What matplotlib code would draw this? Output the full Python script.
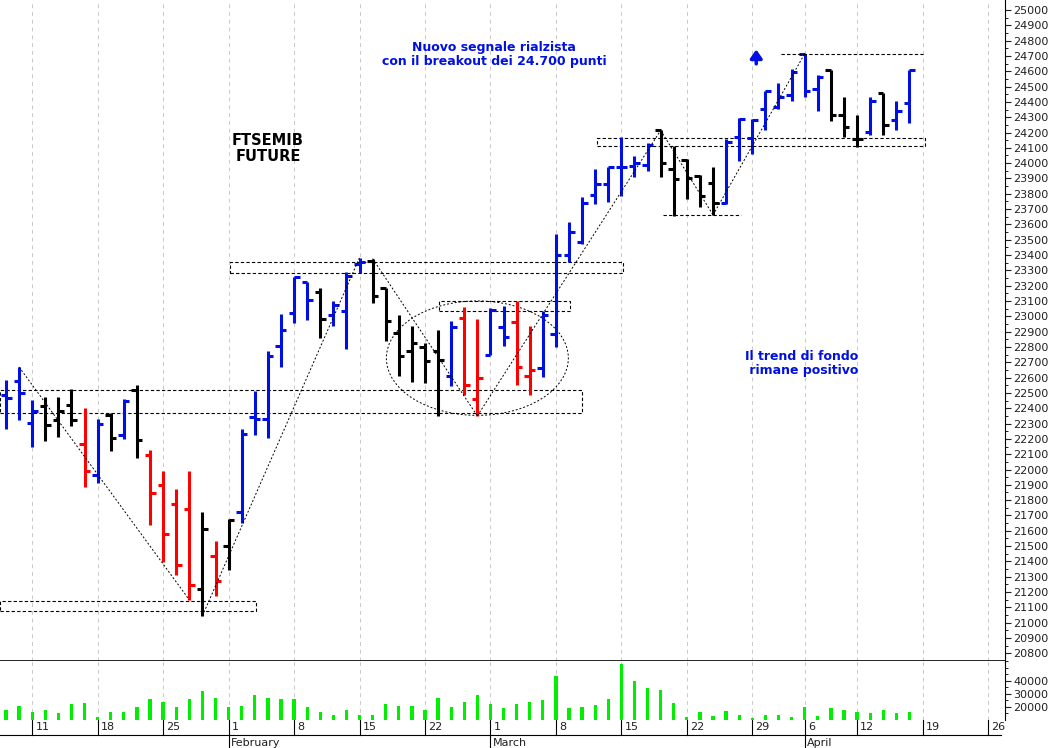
import matplotlib
matplotlib.use("Agg")
import matplotlib.pyplot as plt
from matplotlib.patches import Rectangle, Ellipse
import numpy as np

opens  = [22487,22578,22305,22415,22325,22422,22169,21967,22357,22227,22519,22097,21896,21773,21740,21221,21435,21500,21721,22344,
          22331,22805,23019,23227,23162,23006,23032,23344,23364,23182,22890,22773,22799,22773,22610,22987,22461,22747,22929,22961,
          22610,22662,22883,23402,23487,23792,23864,23974,23980,23987,24214,23961,24019,23916,23870,23740,24169,24162,24351,24364,
          24442,24714,24481,24610,24312,24156,24201,24455,24279,24390]
highs  = [22585,22669,22454,22474,22474,22526,22402,22331,22370,22461,22552,22130,21993,21870,21993,21721,21532,21675,22266,22513,
          22773,23013,23260,23227,23182,23097,23292,23383,23377,23182,23006,22935,22825,22909,22967,23058,22980,23052,23065,23097,
          22935,23032,23539,23617,23779,23961,23974,24169,24045,24130,24214,24110,24026,23922,23974,24156,24292,24286,24468,24526,
          24617,24714,24578,24610,24429,24312,24435,24455,24403,24610]
lows   = [22265,22325,22149,22188,22214,22286,21883,21915,22123,22201,22078,21636,21396,21311,21149,21045,21175,21344,21649,22227,
          22208,22669,22955,22974,22857,22935,22786,23286,23084,22838,22610,22571,22565,22350,22545,22487,22350,22747,22805,22552,
          22487,22604,22799,23357,23474,23734,23747,23786,23909,23948,23909,23656,23766,23714,23662,23734,24013,24058,24214,24351,
          24403,24435,24338,24273,24169,24104,24182,24182,24214,24260]
closes = [22467,22500,22383,22292,22383,22325,21993,22299,22208,22448,22195,21844,21578,21376,21246,21610,21273,21669,22234,22331,
          22740,22909,23260,23104,22980,23071,23266,23357,23130,22967,22740,22825,22708,22714,22929,22552,22597,23039,22864,22669,
          22649,23006,23402,23552,23740,23864,23974,23974,24000,24117,24000,23896,23903,23786,23740,24136,24286,24279,24468,24429,
          24597,24468,24565,24312,24234,24156,24403,24247,24338,24610]
bar_colors = list("BBBKKKRBKBKRRRRKRKBBBBBBKBBBKKKKKKBRRBBRRBBBBBBBBBKKKKKBBBBBBBBKKKBKBB")
volumes = [17500,21000,16000,17500,15000,22000,23000,12000,16000,16000,20000,26000,24000,20000,26000,32000,27000,19600,21000,29000,
           27000,26000,26000,20000,16000,14000,18000,14000,14000,22000,21000,21000,17500,27000,19600,24000,29000,22000,19000,22000,
           23500,25500,43600,19000,20000,21500,26000,52700,39600,34500,32700,23000,12400,15900,13000,17000,14000,11600,13500,13500,
           12000,20000,13000,19000,17500,16000,15000,17500,15000,16000]
week_idx = [2,7,12,17,22,27,32,37,42,47,52,57,61,65,70,75]
week_lbl = ["11","18","25","1","8","15","22","1","8","15","22","29","6","12","19","26"]
months = [(17,"February"),(37,"March"),(61,"April")]

cmap = {"B":"#0010e0","K":"#000000","R":"#ff0000"}
W, H = 1060, 748
fig = plt.figure(figsize=(W/100, H/100), dpi=100)
x0, x1 = -0.46, 76.3
ax = fig.add_axes([0, 1-661/H, 1005/W, 661/H])
axv = fig.add_axes([0, 1-720/H, 1005/W, 59/H])
for a in (ax, axv):
    a.set_xlim(x0, x1)
    for w in week_idx:
        a.axvline(w, color="#c8c8c8", lw=0.7, ls=(0,(4,4)), zorder=0)
    a.yaxis.tick_right()
    a.tick_params(axis="y", labelsize=8, length=4, pad=2, colors="#202020")
    for s in ("top","left"):
        a.spines[s].set_visible(False)
    a.set_xticks([])
ax.spines["bottom"].set_linewidth(1.2)
ax.set_ylim(20772, 25065)
ax.set_yticks(np.arange(20800, 25001, 100))
ax.set_yticks(np.arange(20750, 25050, 50), minor=True)
ax.tick_params(axis="y", which="minor", length=2)

tl = 0.42
for i in range(len(opens)):
    c = cmap[bar_colors[i]]
    ax.plot([i, i], [lows[i], highs[i]], color=c, lw=2.2, solid_capstyle="butt")
    ax.plot([i-tl, i], [opens[i], opens[i]], color=c, lw=2.2, solid_capstyle="butt")
    ax.plot([i, i+tl], [closes[i], closes[i]], color=c, lw=2.2, solid_capstyle="butt")

dash = dict(color="black", lw=0.8, ls=(0,(3,2)))
rects = [(-0.46,19.1,21078,21143),(-0.46,44.0,22370,22520),(17.1,47.1,23286,23357),(33.1,43.05,23032,23097),(45.1,70.2,24110,24162)]
for a0,a1,b0,b1 in rects:
    ax.add_patch(Rectangle((a0,b0),a1-a0,b1-b0,fill=False,**dash))
ax.plot([59.2,70],[24710,24710],**dash)
ax.plot([50.2,56.1],[23660,23660],**dash)
dot = dict(color="black", lw=0.7, ls=(0,(2,2)))
for (p,q) in [((1,22669),(14,21149)),((15,21045),(27,23383)),((28,23377),(36,22350)),
              ((36,22350),(50,24214)),((50,24214),(54,23662)),((54,23662),(61,24714))]:
    ax.plot([p[0],q[0]],[p[1],q[1]],**dot)
ax.add_patch(Ellipse((36.0,22727),13.9,747,fill=False,**dot))

ax.text(20.0,24097,"FTSEMIB\nFUTURE",ha="center",va="center",fontsize=10.5,fontweight="bold",color="black",linespacing=1.1)
ax.text(37.3,24708,"Nuovo segnale rialzista\ncon il breakout dei 24.700 punti",ha="center",va="center",fontsize=9,fontweight="bold",color="#0010e0",linespacing=1.1)
ax.text(60.8,22695,"Il trend di fondo\n rimane positivo",ha="center",va="center",fontsize=9,fontweight="bold",color="#0010e0",linespacing=1.1)
ax.annotate("",xy=(57.3,24760),xytext=(57.3,24630),arrowprops=dict(arrowstyle="-|>,head_width=0.35,head_length=0.5",color="#0010e0",lw=2.5))

axv.set_ylim(10000, 55300)
axv.bar(np.arange(len(volumes)), np.array(volumes)-10000, bottom=10000, width=0.25, color="#00ee00")
axv.set_yticks([20000,30000,40000])
axv.set_yticks(np.arange(15000,55000,5000), minor=True)
axv.tick_params(axis="y", which="minor", length=2)
axv.spines["bottom"].set_visible(False)

# date axis
axd = fig.add_axes([0, 0, 1005/W, 28/H])
axd.set_xlim(x0, x1); axd.set_ylim(0, 28); axd.axis("off")
axd.plot([x0, 76.0],[13,13],color="black",lw=0.8)
for w,l in zip(week_idx, week_lbl):
    axd.plot([w,w],[13,28],color="black",lw=0.8)
    axd.text(w+0.25,20.5,l,fontsize=8,va="center",ha="left",color="#202020")
for w,l in months:
    axd.plot([w,w],[0,13],color="black",lw=0.8)
    axd.text(w+0.15,5.5,l,fontsize=8,va="center",ha="left",color="#202020")
fig.savefig("out.png", dpi=100)
